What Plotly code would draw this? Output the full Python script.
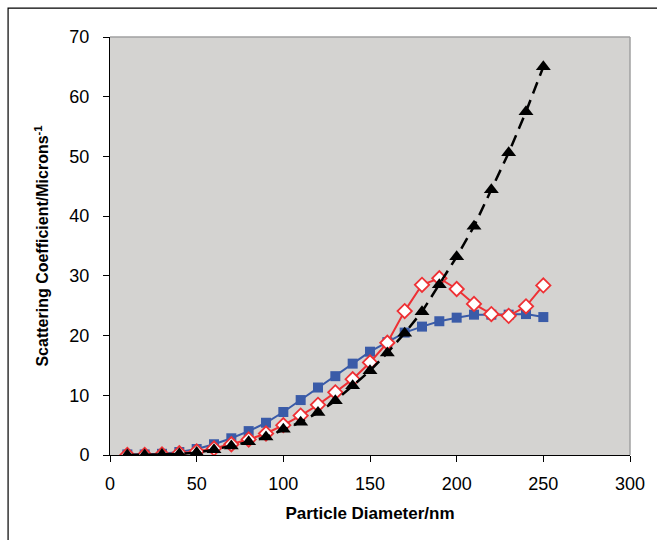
import plotly.graph_objects as go

# Particle diameters (nm)
diameter = [10, 20, 30, 40, 50, 60, 70, 80, 90, 100, 110, 120, 130,
            140, 150, 160, 170, 180, 190, 200, 210, 220, 230, 240, 250]

# Scattering coefficients (microns^-1)
series_blue = [0.1, 0.1, 0.2, 0.5, 1.0, 1.8, 2.8, 4.0, 5.4, 7.2, 9.2, 11.3, 13.2,
               15.3, 17.3, 18.9, 20.5, 21.5, 22.4, 23.0, 23.5, 23.5, 23.5, 23.6, 23.1]
series_red = [0.0, 0.0, 0.1, 0.3, 0.6, 1.1, 1.8, 2.6, 3.6, 5.0, 6.6, 8.4, 10.5,
              12.7, 15.5, 18.8, 24.1, 28.5, 29.6, 27.8, 25.3, 23.6, 23.3, 24.9, 28.4]
series_black = [0.0, 0.0, 0.1, 0.2, 0.4, 0.9, 1.5, 2.2, 3.0, 4.3, 5.5, 7.1, 9.1,
                11.6, 14.1, 17.1, 20.4, 24.0, 28.5, 33.2, 38.3, 44.4, 50.6, 57.5, 65.0]

x_ticks = [0, 50, 100, 150, 200, 250, 300]
y_ticks = [0, 10, 20, 30, 40, 50, 60, 70]

fig = go.Figure()

fig.add_trace(go.Scatter(
    x=diameter, y=series_blue, mode="lines+markers",
    line=dict(color="#3A5BA8", width=2),
    marker=dict(symbol="square", size=10, color="#3A5BA8",
                line=dict(color="#3A5BA8", width=0)),
    showlegend=False))

fig.add_trace(go.Scatter(
    x=diameter, y=series_red, mode="lines+markers",
    line=dict(color="#EE3034", width=2),
    marker=dict(symbol="diamond", size=11, color="white",
                line=dict(color="#EE3034", width=1.8)),
    showlegend=False))

fig.add_trace(go.Scatter(
    x=diameter, y=series_black, mode="lines+markers",
    line=dict(color="black", width=2.5, dash="12px,7px"),
    marker=dict(symbol="triangle-up", size=13, color="black"),
    showlegend=False))

font_family = "Liberation Sans, Arial, sans-serif"

fig.update_layout(
    width=657, height=540,
    margin=dict(l=110, r=27, t=37, b=85),
    paper_bgcolor="white",
    plot_bgcolor="#D4D3D1",
    font=dict(family=font_family, color="black"),
    xaxis=dict(
        range=[0, 300], tickvals=x_ticks, ticktext=[str(v) for v in x_ticks],
        showgrid=False, zeroline=False,
        showline=True, linecolor="black", linewidth=1,
        ticks="outside", ticklen=6, tickcolor="black",
        ticklabelstandoff=6,
        tickfont=dict(size=18, family=font_family),
        title=dict(text="<b>Particle Diameter/nm</b>",
                   font=dict(size=17, family=font_family), standoff=14),
    ),
    yaxis=dict(
        range=[0, 70], tickvals=y_ticks, ticktext=[str(v) for v in y_ticks],
        showgrid=False, zeroline=False,
        showline=True, linecolor="black", linewidth=1,
        ticks="outside", ticklen=6, tickcolor="black",
        ticklabelstandoff=10,
        tickfont=dict(size=18, family=font_family),
        title=dict(text="<b>Scattering Coefficient/Microns<sup>-1</sup></b>",
                   font=dict(size=16, family=font_family), standoff=16),
    ),
)

# Gray border on the top and right of the plot area
fig.add_shape(type="line", xref="paper", yref="paper", x0=0, y0=1, x1=1, y1=1,
              line=dict(color="#A0A0A0", width=1.5))
fig.add_shape(type="line", xref="paper", yref="paper", x0=1, y0=0, x1=1, y1=1,
              line=dict(color="#A0A0A0", width=1.5))

# Outer chart frame (right and bottom edges fall outside the page)
fig.add_shape(type="rect", xref="paper", yref="paper",
              x0=-0.196, y0=-0.4, x1=1.3, y1=1.069,
              line=dict(color="black", width=1.2), fillcolor="rgba(0,0,0,0)",
              layer="below")

fig.write_html("out.html")
